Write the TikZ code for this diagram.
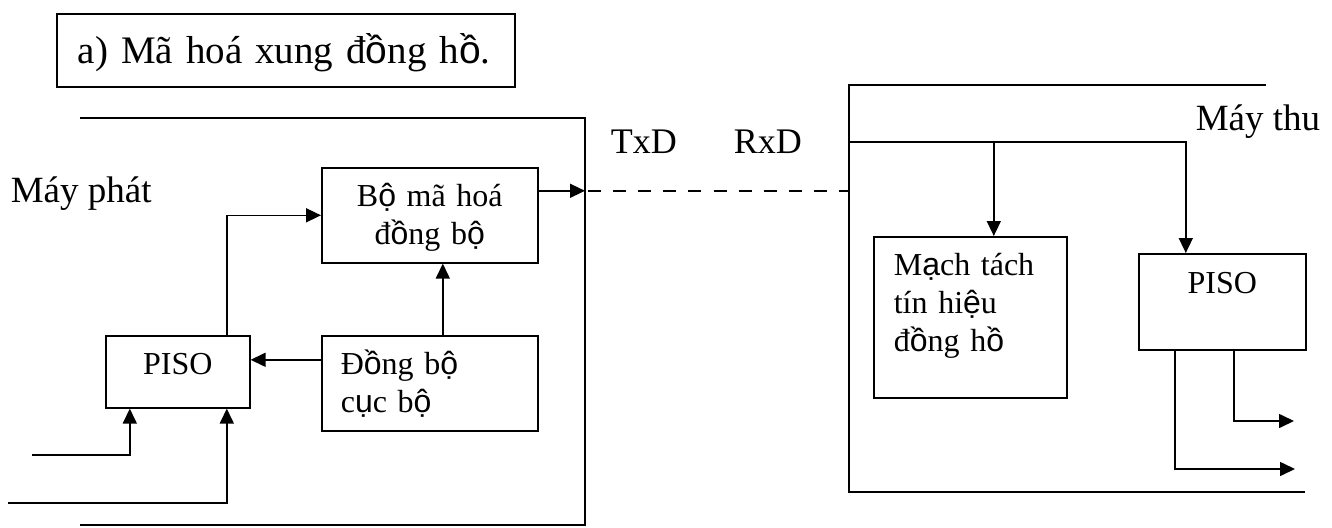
\documentclass[tikz,border=0pt]{standalone}
\usepackage{fontspec}
\setmainfont{Liberation Serif}
% a few precomposed Vietnamese vowels are set in a sans face
\newfontfamily\vnsans{Liberation Sans}
\newcommand\vs[1]{{\vnsans #1}}
\usetikzlibrary{arrows.meta}

\begin{document}
\begin{tikzpicture}[x=1pt, y=-1pt, line width=1.6pt,
  arr/.style={-{Triangle[length=15pt,width=14pt]}},
  blk/.style={draw, inner sep=0pt, anchor=north west,
    font=\fontsize{32}{38}\selectfont},
  lbl/.style={anchor=base west, inner sep=0pt}]
\useasboundingbox (0,0) rectangle (1332,527);

% heading
\node[draw, inner ysep=0pt, inner xsep=21pt, anchor=north west,
  text width=416pt, align=left, text height=50pt, text depth=23pt,
  font=\fontsize{39}{46}\selectfont] (title) at (56,13)
  {\mbox{a) Mã hoá xung đ\vs{ồ}ng h\vs{ồ}.}};

% ---------------- transmitter ----------------
\coordinate (txTop) at (585,118);
\coordinate (txBot) at (585,525);
\draw (80,118) -- (txTop) -- (txBot) -- (80,525);
\node[lbl, font=\fontsize{37}{44}\selectfont] (tx) at (10,202) {Máy phát};

\node[blk, minimum width=216pt, minimum height=95pt, text width=216pt,
  align=center, text height=39pt, text depth=56pt] (enc) at (321,167)
  {B\vs{ộ} mã hoá\\đ\vs{ồ}ng b\vs{ộ}};
\node[blk, minimum width=144pt, minimum height=72pt, text width=144pt,
  align=center, text height=39pt, text depth=33pt] (pisoL) at (105,335)
  {PISO};
\node[blk, inner xsep=19pt, text width=178pt,
  align=left, text height=39pt, text depth=56pt] (sync) at (321,335)
  {Đ\vs{ồ}ng b\vs{ộ}\\c\vs{ụ}c b\vs{ộ}};

\coordinate (in1) at (32,455);
\coordinate (in2) at (8,503);
\draw[arr] (in1) -| ([xshift=-48pt]pisoL.south);
\draw[arr] (in2) -| ([xshift=49pt]pisoL.south);
\draw[arr] ([xshift=49pt]pisoL.north) |- (enc.west);
\draw[arr] ([yshift=23.5pt]sync.west) -- ([yshift=12pt]pisoL.east);
\draw[arr] ([xshift=13pt]sync.north) -- ([xshift=13pt]enc.south);
\draw[arr] ([yshift=24.5pt]enc.east) -- ([yshift=24.5pt]enc.east -| txTop);

% ---------------- receiver ----------------
\coordinate (rxTop) at (849,85);
\coordinate (rxBot) at (849,492);
\coordinate (rxBranch) at (849,142);
\draw (1266,85) -- (rxTop) -- (rxBot) -- (1305,492);
\node[lbl, font=\fontsize{37}{44}\selectfont] (rx) at (1195,130) {Máy thu};

\node[lbl, font=\fontsize{36}{42}\selectfont] (txd) at (610,153) {TxD};
\node[lbl, font=\fontsize{36}{42}\selectfont] (rxd) at (733,153) {RxD};

% line between the two stations
\draw[dash pattern=on 13pt off 12.1pt, dash phase=-3pt]
  ([yshift=24.5pt]enc.east -| txTop) -- ([yshift=24.5pt]enc.east -| rxTop);

\node[blk, inner xsep=20pt, text width=153pt,
  align=left, text height=39pt, text depth=122pt] (clk) at (873,236)
  {M\vs{ạ}ch tách\\tín hi\vs{ệ}u\\đ\vs{ồ}ng h\vs{ồ}};
\node[blk, minimum width=167pt, minimum height=96pt, text width=167pt,
  align=center, text height=40pt, text depth=56pt] (pisoR) at (1138,253)
  {PISO};

\draw[arr] (rxBranch) -| ([xshift=-36.5pt]pisoR.north);
\draw[arr] ([xshift=23.5pt]clk.north |- rxBranch) -- ([xshift=23.5pt]clk.north);

\coordinate (out1) at (1294,421);
\coordinate (out2) at (1295,469);
\draw[arr] ([xshift=11.5pt]pisoR.south) |- (out1);
\draw[arr] ([xshift=-47.5pt]pisoR.south) |- (out2);
\end{tikzpicture}
\end{document}
